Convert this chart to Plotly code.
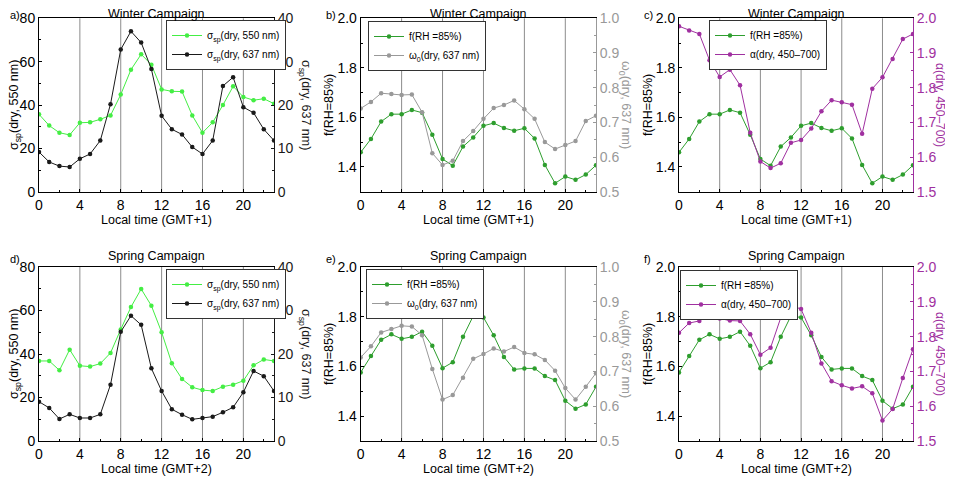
import plotly.graph_objects as go

hours = list(range(24))

# Winter campaign (GMT+1)
w_sp550 = [35.7, 30.5, 27.2, 26.2, 31.8, 32.0, 33.4, 35.2, 44.8, 56.3, 63.4, 58.6,
           47.2, 46.3, 46.2, 35.2, 27.2, 32.0, 40.0, 48.6, 43.7, 42.2, 42.9, 40.6]
w_sp637 = [9.15, 6.85, 5.9, 5.7, 7.6, 8.7, 11.8, 20.2, 32.8, 37.0, 34.4, 28.3,
           17.5, 14.4, 13.2, 10.3, 8.7, 11.8, 24.4, 26.4, 19.5, 18.2, 14.4, 11.8]
w_frh = [1.459, 1.513, 1.583, 1.613, 1.613, 1.630, 1.619, 1.530, 1.432, 1.405, 1.482, 1.519,
         1.566, 1.577, 1.557, 1.546, 1.556, 1.515, 1.408, 1.334, 1.361, 1.348, 1.369, 1.407]
w_w0 = [0.740, 0.759, 0.784, 0.782, 0.779, 0.780, 0.729, 0.611, 0.577, 0.589, 0.646, 0.675,
        0.710, 0.741, 0.750, 0.763, 0.738, 0.710, 0.643, 0.623, 0.635, 0.646, 0.704, 0.719]
w_alpha = [1.977, 1.965, 1.955, 1.879, 1.831, 1.852, 1.807, 1.670, 1.587, 1.568, 1.582, 1.641,
           1.649, 1.682, 1.732, 1.764, 1.758, 1.751, 1.667, 1.797, 1.830, 1.883, 1.940, 1.955]

# Spring campaign (GMT+2)
s_sp550 = [36.8, 36.8, 32.5, 42.0, 34.6, 34.2, 35.6, 40.5, 51.3, 61.6, 69.9, 62.2,
           50.0, 35.7, 28.5, 24.7, 23.4, 23.0, 25.0, 25.9, 27.7, 34.8, 37.5, 36.8]
s_sp637 = [9.04, 7.6, 5.06, 6.13, 5.29, 5.29, 6.13, 12.95, 25.1, 28.8, 26.7, 16.7,
           11.5, 7.3, 6.05, 4.98, 5.29, 5.6, 6.6, 7.74, 11.2, 16.1, 14.9, 11.5]
s_frh = [1.576, 1.642, 1.707, 1.729, 1.711, 1.719, 1.740, 1.683, 1.593, 1.617, 1.719, 1.803,
         1.797, 1.725, 1.638, 1.588, 1.592, 1.592, 1.561, 1.545, 1.462, 1.430, 1.447, 1.518]
s_w0 = [0.740, 0.772, 0.812, 0.822, 0.831, 0.829, 0.804, 0.707, 0.619, 0.632, 0.682, 0.736,
        0.750, 0.766, 0.757, 0.770, 0.753, 0.749, 0.733, 0.702, 0.652, 0.619, 0.656, 0.695]
s_alpha = [1.811, 1.839, 1.845, 1.865, 1.852, 1.846, 1.845, 1.807, 1.748, 1.768, 1.854, 1.890,
           1.879, 1.811, 1.723, 1.672, 1.660, 1.651, 1.657, 1.637, 1.559, 1.592, 1.681, 1.764]

x_ticks = [0, 4, 8, 12, 16, 20]
grid_x = [4, 8, 12, 16, 20]

GREEN_L = "#44ee44"
BLACK = "#1a1a1a"
GREEN_D = "#2e9e2e"
GRAY = "#999999"
PURPLE = "#a030a0"
FONT = "Liberation Sans, Arial, sans-serif"

# the page body adds an 8px offset; lay out in window pixels
OFF = 8
W, H = 953 - OFF, 477 - OFF
def px(x): return (x - OFF) / W
def py(y): return 1 - (y - OFF) / H

xdoms = [(39, 274), (360.7, 596), (679, 913)]
ydoms = [(18.3, 191.7), (267, 441)]

sp550_name = "σ<sub>sp</sub>(dry, 550 nm)"
sp637_name = "σ<sub>sp</sub>(dry, 637 nm)"
frh_name = "f(RH =85%)"
w0_name = "ω<sub>0</sub>(dry, 637 nm)"
al_name = "α(dry, 450–700)"

panels = [
    dict(lab="a)", camp="Winter Campaign", xt="Local time (GMT+1)",
         l=(sp550_name, w_sp550, GREEN_L), r=(sp637_name, w_sp637, BLACK),
         lr=[0, 80], ld=20, lm=10, rr=[0, 40], rd=10, rm=5, rc=BLACK,
         ltitle="σ<sub>sp</sub>(dry, 550 nm)", rtitle="σ<sub>sp</sub>(dry, 637 nm)",
         leg=(166, 20), lt=15, rt=305, rfs=12.5),
    dict(lab="b)", camp="Winter Campaign", xt="Local time (GMT+1)",
         l=(frh_name, w_frh, GREEN_D), r=(w0_name, w_w0, GRAY),
         lr=[1.3, 2.0], ld=0.2, lm=0.1, rr=[0.5, 1.0], rd=0.1, rm=0.05, rc=GRAY,
         ltitle="f(RH=85%)", rtitle="ω<sub>0</sub>(dry, 637 nm)",
         leg=(368, 21), lt=329, rt=625, rfs=12.5),
    dict(lab="c)", camp="Winter Campaign", xt="Local time (GMT+1)",
         l=(frh_name, w_frh, GREEN_D), r=(al_name, w_alpha, PURPLE),
         lr=[1.3, 2.0], ld=0.2, lm=0.1, rr=[1.5, 2.0], rd=0.1, rm=0.05, rc=PURPLE,
         ltitle="f(RH=85%)", rtitle="α(dry, 450–700)",
         leg=(709, 20), lt=648, rt=940, rfs=12),
    dict(lab="d)", camp="Spring Campaign", xt="Local time (GMT+2)",
         l=(sp550_name, s_sp550, GREEN_L), r=(sp637_name, s_sp637, BLACK),
         lr=[0, 80], ld=20, lm=10, rr=[0, 40], rd=10, rm=5, rc=BLACK,
         ltitle="σ<sub>sp</sub>(dry, 550 nm)", rtitle="σ<sub>sp</sub>(dry, 637 nm)",
         leg=(166, 269), lt=15, rt=305, rfs=12.5),
    dict(lab="e)", camp="Spring Campaign", xt="Local time (GMT+2)",
         l=(frh_name, s_frh, GREEN_D), r=(w0_name, s_w0, GRAY),
         lr=[1.3, 2.0], ld=0.2, lm=0.1, rr=[0.5, 1.0], rd=0.1, rm=0.05, rc=GRAY,
         ltitle="f(RH=85%)", rtitle="ω<sub>0</sub>(dry, 637 nm)",
         leg=(366, 269), lt=329, rt=625, rfs=12.5),
    dict(lab="f)", camp="Spring Campaign", xt="Local time (GMT+2)",
         l=(frh_name, s_frh, GREEN_D), r=(al_name, s_alpha, PURPLE),
         lr=[1.3, 2.0], ld=0.2, lm=0.1, rr=[1.5, 2.0], rd=0.1, rm=0.05, rc=PURPLE,
         ltitle="f(RH=85%)", rtitle="α(dry, 450–700)",
         leg=(680, 270), lt=648, rt=940, rfs=12),
]

fig = go.Figure()
layout = dict(width=W, height=H, margin=dict(l=0, r=0, t=0, b=0, autoexpand=False),
              paper_bgcolor="white", plot_bgcolor="white",
              font=dict(family=FONT, size=13, color="black"),
              annotations=[], shapes=[])

for i, p in enumerate(panels):
    n = i + 1
    row, col = divmod(i, 3)
    x0, x1 = xdoms[col]
    yt, yb = ydoms[row]
    xa = "x" if n == 1 else f"x{n}"
    yl_id = 2 * n - 1
    yr_id = 2 * n
    yl = "y" if yl_id == 1 else f"y{yl_id}"
    yr = f"y{yr_id}"
    legname = "legend" if n == 1 else f"legend{n}"

    layout[f"xaxis{'' if n == 1 else n}"] = dict(
        domain=[px(x0), px(x1)], anchor=yl, range=[0, 23],
        tickvals=x_ticks, ticks="inside", ticklen=3, tickcolor="black",
        minor=dict(ticks="inside", dtick=2, ticklen=2, tickcolor="black"),
        showline=True, linecolor="black", linewidth=1, mirror=True,
        showgrid=False, zeroline=False, tickfont=dict(size=14))
    layout[f"yaxis{'' if yl_id == 1 else yl_id}"] = dict(
        domain=[py(yb), py(yt)], anchor=xa, range=p["lr"], dtick=p["ld"],
        ticks="inside", ticklen=3, tickcolor="black",
        minor=dict(ticks="inside", dtick=p["lm"], ticklen=2, tickcolor="black"),
        showline=True, linecolor="black", linewidth=1, mirror=False,
        showgrid=False, zeroline=False, tickfont=dict(size=14),
        tickformat=".1f" if p["ld"] < 1 else "d")
    layout[f"yaxis{yr_id}"] = dict(
        domain=[py(yb), py(yt)], anchor=xa, overlaying=yl, side="right",
        range=p["rr"], dtick=p["rd"],
        ticks="inside", ticklen=3, tickcolor=p["rc"],
        minor=dict(ticks="inside", dtick=p["rm"], ticklen=2, tickcolor=p["rc"]),
        showline=True, linecolor=p["rc"], linewidth=1,
        showgrid=False, zeroline=False, tickfont=dict(size=14, color=p["rc"]),
        tickformat=".1f" if p["rd"] < 1 else "d")

    for gx in grid_x:
        layout["shapes"].append(dict(type="line", xref=xa, yref=f"{yl} domain",
                                     x0=gx, x1=gx, y0=0, y1=1, layer="below",
                                     line=dict(color="#8c8c8c", width=1)))

    lname, lvals, lcol = p["l"]
    rname, rvals, rcol = p["r"]
    fig.add_trace(go.Scatter(x=hours, y=lvals, name=lname, mode="lines+markers",
                             line=dict(color=lcol, width=1),
                             marker=dict(color=lcol, size=4.5, symbol="circle"),
                             xaxis=xa, yaxis=yl, legend=legname))
    fig.add_trace(go.Scatter(x=hours, y=rvals, name=rname, mode="lines+markers",
                             line=dict(color=rcol, width=1),
                             marker=dict(color=rcol, size=4.5, symbol="circle"),
                             xaxis=xa, yaxis=yr, legend=legname))

    lx, ly = p["leg"]
    layout[legname] = dict(x=px(lx), y=py(ly), xanchor="left", yanchor="top",
                           bgcolor="white", bordercolor="#333333", borderwidth=1,
                           font=dict(size=10), itemwidth=30, tracegroupgap=0)

    cx = (x0 + x1) / 2
    cy = (yt + yb) / 2
    ann = layout["annotations"]
    common = dict(xref="paper", yref="paper", showarrow=False,
                  xanchor="center", yanchor="middle")
    ann.append(dict(text=p["camp"], x=px(cx), y=py(max(yt - 11, 14.5)),
                    font=dict(size=12.5), **common))
    ann.append(dict(text=p["xt"], x=px(cx), y=py(yb + 28),
                    font=dict(size=12.5), **common))
    lab = dict(common)
    lab["xanchor"] = "left"
    ann.append(dict(text=p["lab"], x=px(max(x0 - 37, OFF)), y=py(max(yt - 8, 15)),
                    font=dict(size=11), **lab))
    ann.append(dict(text=p["ltitle"], x=px(p["lt"]), y=py(cy), textangle=-90,
                    font=dict(size=12.5), **common))
    ann.append(dict(text=p["rtitle"], x=px(p["rt"]), y=py(cy), textangle=90,
                    font=dict(size=p["rfs"], color=p["rc"]), **common))

fig.update_layout(**layout)
fig.write_html("out.html")
